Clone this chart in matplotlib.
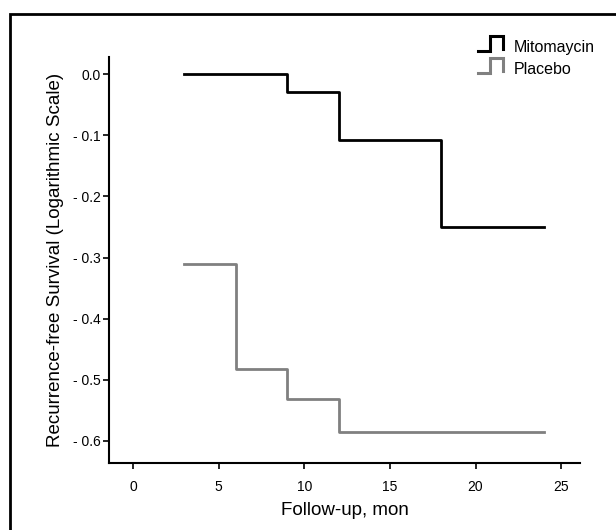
import matplotlib
matplotlib.use("Agg")
import matplotlib.pyplot as plt
from matplotlib.lines import Line2D
from matplotlib.legend_handler import HandlerBase
from matplotlib.patches import Rectangle

plt.rcParams['font.family'] = ['Liberation Sans', 'DejaVu Sans']

# step data
mito_t = [3, 9, 12, 18, 24]
mito_s = [0.0, -0.03, -0.108, -0.25, -0.25]
plac_t = [3, 6, 9, 12, 24]
plac_s = [-0.31, -0.483, -0.532, -0.585, -0.585]

xticks = [0, 5, 10, 15, 20, 25]
yticks = [0.0, -0.1, -0.2, -0.3, -0.4, -0.5, -0.6]
ylabels = ['0.0', '- 0.1', '- 0.2', '- 0.3', '- 0.4', '- 0.5', '- 0.6']


class StepHandler(HandlerBase):
    # draws the little "_|-|" glyph used in the legend
    def create_artists(self, legend, orig, xd, yd, w, h, fontsize, trans):
        xs = [xd, xd + 0.5 * w, xd + 0.5 * w, xd + w, xd + w]
        ys = [yd - 0.05 * h, yd - 0.05 * h, yd + 1.0 * h, yd + 1.0 * h, yd + 0.05 * h]
        ln = Line2D(xs, ys, color=orig.get_color(), lw=2.2, transform=trans,
                    solid_joinstyle='miter')
        return [ln]


fig = plt.figure(figsize=(6.16, 5.30), dpi=100)
ax = fig.add_axes([0.177, 0.1264, 0.7646, 0.7661])

l1, = ax.step(mito_t, mito_s, where='post', color='black', lw=2)
l2, = ax.step(plac_t, plac_s, where='post', color='#808080', lw=2)

ax.set_xlim(-1.4, 26.1)
ax.set_ylim(-0.636, 0.028)
ax.set_xticks(xticks)
ax.set_yticks(yticks)
ax.set_yticklabels(ylabels)
ax.tick_params(labelsize=10, length=4, width=1.2, direction='out', pad=2)
ax.tick_params(axis='x', pad=8)

for s in ['top', 'right']:
    ax.spines[s].set_visible(False)
for s in ['left', 'bottom']:
    ax.spines[s].set_linewidth(1.5)

ax.set_xlabel('Follow-up, mon', fontsize=13.5, labelpad=6)
ax.set_ylabel('Recurrence-free Survival (Logarithmic Scale)', fontsize=13.5, labelpad=6)

fig.legend([l1, l2], ['Mitomaycin', 'Placebo'], handler_map={Line2D: StepHandler()},
           loc='upper left', bbox_to_anchor=(478 / 616, 1 - 39 / 530), frameon=False,
           fontsize=11.5, borderpad=0, borderaxespad=0,
           handlelength=1.55, handleheight=1.0, handletextpad=0.7, labelspacing=0.4)

# outer frame (cut off on the right and bottom in the picture)
fig.patches.append(Rectangle((9.5 / 616, -0.1), 1.2, 1 - 14 / 530 + 0.1,
                             transform=fig.transFigure, fill=False,
                             edgecolor='black', lw=2))

fig.savefig('out.png', dpi=100)
